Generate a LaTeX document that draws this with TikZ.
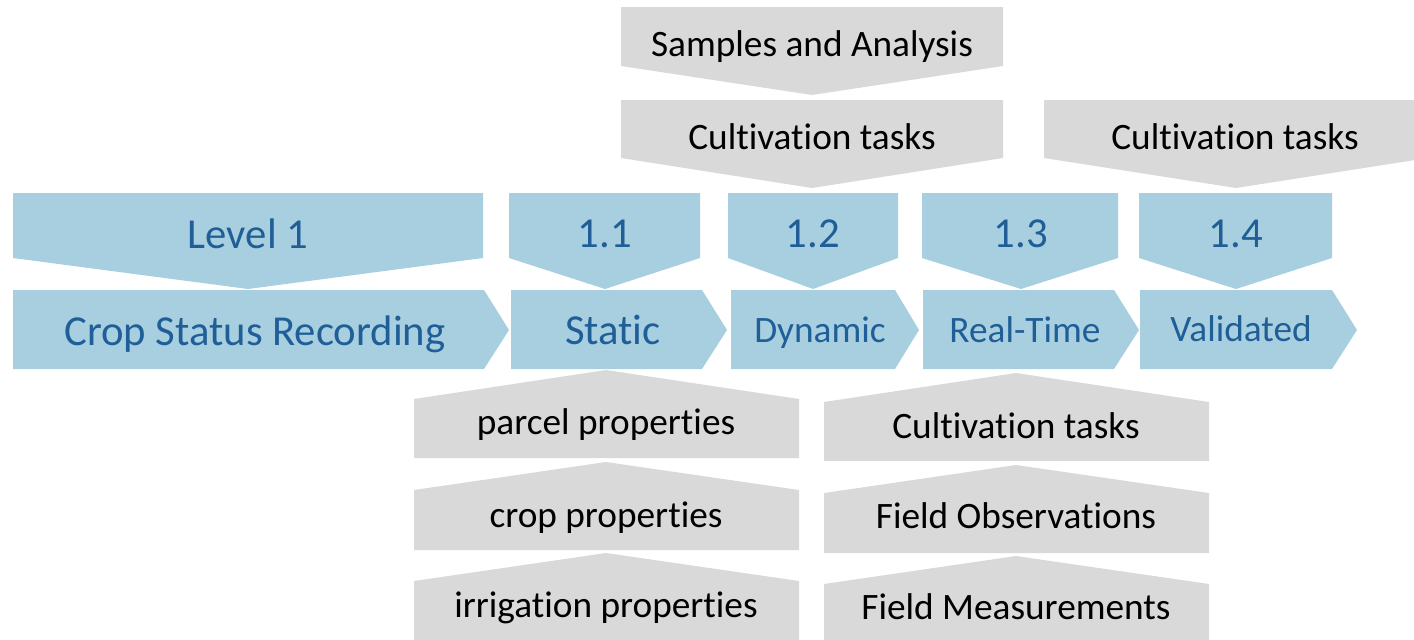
\documentclass[tikz,border=0pt]{standalone}
\usepackage{fontspec}
\setmainfont{Carlito}[Ligatures=NoCommon]
\definecolor{lvlblue}{RGB}{167,207,223}
\definecolor{lvltext}{RGB}{31,94,150}
\definecolor{taskgray}{RGB}{217,217,217}
\tikzset{
  bluebox/.style={fill=lvlblue},
  graybox/.style={fill=taskgray},
  bigtxt/.style={anchor=base,inner sep=0pt,text=lvltext,font=\fontsize{42.7}{50}\selectfont},
  midtxt/.style={anchor=base,inner sep=0pt,text=lvltext,font=\fontsize{37.3}{44}\selectfont},
  graytxt/.style={anchor=base,inner sep=0pt,text=black,font=\fontsize{37.3}{44}\selectfont}
}
\begin{document}
\begin{tikzpicture}[x=1pt,y=-1pt]
        \useasboundingbox (0,0) rectangle (1414,640);
        \clip (0,0) rectangle (1414,640);

        % level boxes (pointing down)
        \path[bluebox] (13,193) -- (483,193) -- (483,258) -- (248,289) -- (13,258) -- cycle;
        \path[bluebox] (509,193) -- (700,193) -- (700,258) -- (605,289) -- (509,258) -- cycle;
        \path[bluebox] (728,193) -- (898,193) -- (898,258) -- (813,289) -- (728,258) -- cycle;
        \path[bluebox] (922,193) -- (1118,193) -- (1118,258) -- (1021,289) -- (922,258) -- cycle;
        \path[bluebox] (1139,193) -- (1332,193) -- (1332,258) -- (1236,289) -- (1139,258) -- cycle;
        \node[bigtxt] (lvl) at (248,248) {Level 1};
        \node[bigtxt] (n11) at (605,247) {1.1};
        \node[bigtxt] (n12) at (813,247) {1.2};
        \node[bigtxt] (n13) at (1021,247) {1.3};
        \node[bigtxt] (n14) at (1236,247) {1.4};

        % status chevrons
        \path[bluebox] (13,290) -- (484,290) -- (509,330) -- (484,369) -- (13,369) -- cycle;
        \path[bluebox] (511,290) -- (702,290) -- (727,330) -- (702,369) -- (511,369) -- cycle;
        \path[bluebox] (731,290) -- (895,290) -- (919,330) -- (895,369) -- (731,369) -- cycle;
        \path[bluebox] (923,290) -- (1114,290) -- (1139,330) -- (1114,369) -- (923,369) -- cycle;
        \path[bluebox] (1140,290) -- (1332,290) -- (1357,330) -- (1332,369) -- (1140,369) -- cycle;
        \node[bigtxt] (csr) at (255,345) {Crop Status Recording};
        \node[bigtxt] (static) at (613,344) {Static};
        \node[midtxt] (dynamic) at (820,342) {Dynamic};
        \node[midtxt] (realtime) at (1025,342) {Real-Time};
        \node[midtxt] (validated) at (1241,341) {Validated};

        % tasks above
        \path[graybox] (621,7) -- (1003,7) -- (1003,66) -- (812,95) -- (621,66) -- cycle;
        \path[graybox] (621,100) -- (1003,100) -- (1003,158) -- (812,188) -- (621,158) -- cycle;
        \path[graybox] (1044,100) -- (1428,100) -- (1428,158) -- (1236,188) -- (1044,158) -- cycle;
        \node[graytxt] (samples) at (812,56) {Samples and Analysis};
        \node[graytxt] (cultA) at (812,149) {Cultivation tasks};
        \node[graytxt] (cultB) at (1235,149) {Cultivation tasks};

        % tasks below
        \path[graybox] (606,370) -- (799,399) -- (799,458) -- (414,458) -- (414,399) -- cycle;
        \path[graybox] (606,462) -- (799,490) -- (799,550) -- (414,550) -- (414,490) -- cycle;
        \path[graybox] (606,553) -- (799,581) -- (799,650) -- (414,650) -- (414,581) -- cycle;
        \path[graybox] (1016,373) -- (1209,402) -- (1209,461) -- (824,461) -- (824,402) -- cycle;
        \path[graybox] (1016,465) -- (1209,493) -- (1209,553) -- (824,553) -- (824,493) -- cycle;
        \path[graybox] (1016,556) -- (1209,584) -- (1209,650) -- (824,650) -- (824,584) -- cycle;
        \node[graytxt] (parcel) at (606,434) {parcel properties};
        \node[graytxt] (cropp) at (606,527) {crop properties};
        \node[graytxt] (irrig) at (606,617) {irrigation properties};
        \node[graytxt] (cultC) at (1016,438) {Cultivation tasks};
        \node[graytxt] (fobs) at (1016,528) {Field Observations};
        \node[graytxt] (fmeas) at (1016,619) {Field Measurements};
    \end{tikzpicture}
\end{document}
